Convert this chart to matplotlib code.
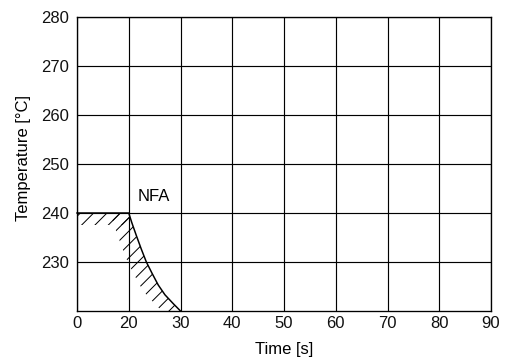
import numpy as np
import matplotlib
matplotlib.use("Agg")
import matplotlib.pyplot as plt

plt.rcParams['font.family'] = ['Liberation Sans', 'DejaVu Sans']
plt.rcParams['hatch.linewidth'] = 0.6

# NFA boundary: holding temperature, then the falling limit curve
time_s = [0, 20, 20.6, 21.5, 22.4, 23.4, 24.5, 25.7, 27.0, 28.6, 30.0]
temp_c = [240, 240, 238.0, 235.3, 232.7, 230.0, 227.7, 225.3, 223.3, 221.5, 220]

x_ticks = [0, 20, 30, 40, 50, 60, 70, 80, 90]
y_ticks = [230, 240, 250, 260, 270, 280]


# first grid cell spans 0-20 s, the rest 10 s each
def fwd(x):
    x = np.asarray(x, dtype=float)
    return np.where(x <= 20, x / 2.0, x - 10.0)


def inv(u):
    u = np.asarray(u, dtype=float)
    return np.where(u <= 10, u * 2.0, u + 10.0)


DPI = 120
fig = plt.figure(figsize=(508 / DPI, 359 / DPI), dpi=DPI)
ax = fig.add_axes([77 / 508, 1 - 311 / 359, (491 - 77) / 508, (311 - 17) / 359])
ax.set_xscale('function', functions=(fwd, inv))
ax.set_xlim(0, 90)
ax.set_ylim(220, 280)
ax.set_xticks(x_ticks)
ax.set_yticks(y_ticks)
ax.tick_params(length=0, labelsize=10, colors='#111111')
ax.tick_params(axis='x', pad=3)
ax.tick_params(axis='y', pad=4.8)
ax.grid(True, color='black', linewidth=0.7)
ax.set_axisbelow(True)
for s in ax.spines.values():
    s.set_linewidth(0.8)

ax.set_xlabel('Time [s]', fontsize=10)
ax.set_ylabel('Temperature [°C]', fontsize=10)
ax.xaxis.set_label_coords(0.5, -0.104)
ax.yaxis.set_label_coords(-0.11, 0.522)

t = np.array(time_s)
T = np.array(temp_c)

# hatched band on the inside of the boundary
flat = t <= 20
band_h = 2.4
ax.fill_between(t[flat], T[flat] - band_h, T[flat], facecolor='none',
                edgecolor='black', hatch='///', linewidth=0)
curve = t >= 20
band_w = 3.6
inner = inv(fwd(t[curve]) - band_w)
ax.fill_betweenx(T[curve], inner, t[curve], facecolor='none',
                 edgecolor='black', hatch='///', linewidth=0)

ax.plot(t, T, color='black', linewidth=0.9, clip_on=False)

ax.text(24.9, 242.4, 'NFA', fontsize=10, ha='center', va='baseline')

fig.savefig('out.png', dpi=DPI)
